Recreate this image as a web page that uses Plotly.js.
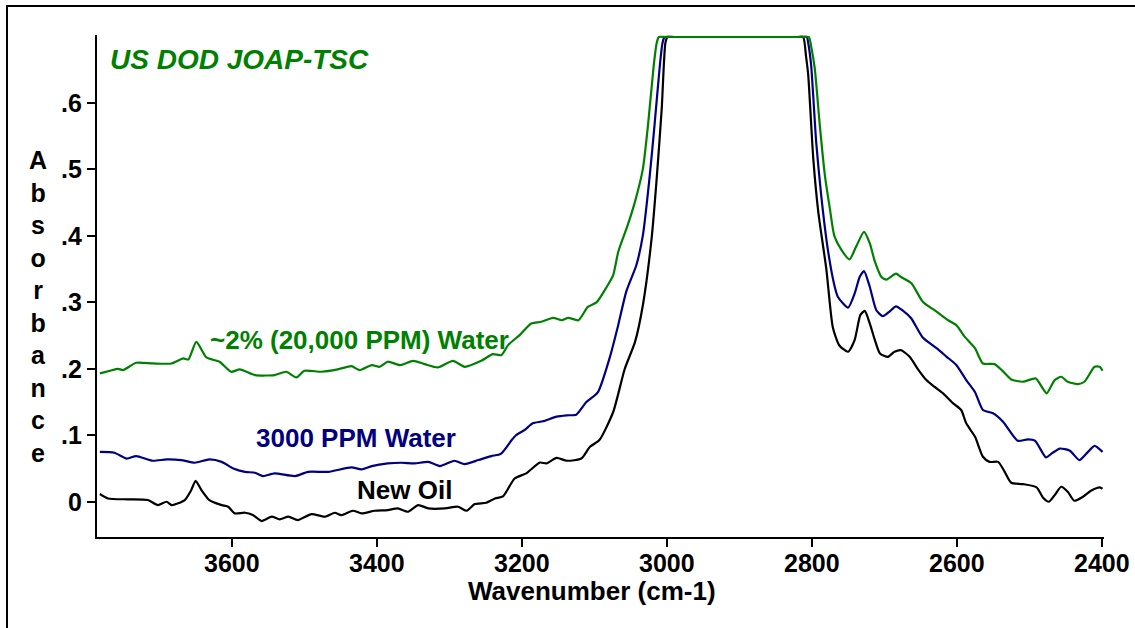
<!DOCTYPE html>
<html>
<head>
<meta charset="utf-8">
<script src="https://cdn.plot.ly/plotly-3.0.1.min.js"></script>
<style>
html,body{margin:0;padding:0;background:#fff;overflow:hidden;}
#chart{position:absolute;left:0;top:0;width:1135px;height:628px;}
#frame{position:absolute;left:6px;top:5px;width:1300px;height:800px;border-left:2px solid #000;border-top:2px solid #000;pointer-events:none;}
</style>
</head>
<body>
<div id="chart"></div>
<div id="frame"></div>
<script>
// ---- data ----
const oilWn = [3782,3771,3743,3716,3702,3690,3683,3665,3656,3650,3642,3631,3614,3605,3596,3582,3571,3559,3545,3534,3522,3509,3490,3472,3458,3449,3433,3421,3403,3385,3371,3357,3343,3329,3306,3288,3276,3265,3249,3237,3226,3210,3194,3175,3166,3152,3138,3118,3106,3093,3074,3058,3044,3033,3021,3014,3007,3002,2999,2990,2900,2820,2812,2808,2805,2798,2791,2780,2771,2762,2750,2741,2733,2727,2720,2713,2706,2695,2686,2677,2665,2654,2642,2631,2619,2605,2594,2587,2575,2564,2555,2543,2534,2525,2509,2490,2481,2473,2465,2456,2447,2438,2426,2415,2403,2399];
const oilAbs = [0.0116,0.005,0.0036,0.0026,-0.005,0.0,-0.005,0.0026,0.0176,0.0316,0.0176,0.0026,-0.005,-0.0075,-0.0175,-0.0165,-0.02,-0.029,-0.0225,-0.0265,-0.0225,-0.0275,-0.0185,-0.0225,-0.0165,-0.02,-0.0135,-0.0175,-0.0135,-0.0125,-0.01,-0.015,-0.005,-0.01,-0.01,-0.0075,-0.0135,-0.0035,-0.0015,0.005,0.008,0.035,0.0427,0.059,0.0577,0.066,0.0617,0.065,0.0827,0.0928,0.135,0.2,0.24,0.296,0.396,0.486,0.592,0.690,0.699,0.699,0.699,0.699,0.699,0.67,0.642,0.516,0.435,0.35,0.262,0.235,0.2256,0.243,0.281,0.287,0.268,0.243,0.223,0.218,0.2256,0.228,0.218,0.2,0.183,0.173,0.163,0.148,0.138,0.118,0.098,0.0677,0.06,0.06,0.045,0.0286,0.0266,0.0217,0.006,0.0,0.01,0.0226,0.015,0.0015,0.0075,0.0165,0.0217,0.0196];

const ppm3000Wn = [3782,3762,3745,3732,3709,3690,3670,3651,3631,3614,3598,3582,3568,3557,3541,3513,3495,3467,3435,3421,3407,3385,3366,3348,3329,3313,3293,3279,3260,3242,3229,3214,3208,3196,3185,3171,3152,3138,3125,3111,3095,3079,3067,3056,3042,3033,3024,3017,3010,3006,3003,2994,2900,2815,2807,2805,2801,2794,2787,2778,2769,2764,2750,2741,2734,2728,2720,2711,2702,2693,2684,2674,2663,2647,2628,2614,2601,2587,2575,2564,2550,2536,2516,2502,2492,2477,2469,2458,2444,2431,2421,2410,2399];
const ppm3000Abs = [0.075,0.0737,0.065,0.0687,0.0617,0.0637,0.0627,0.0587,0.0637,0.06,0.05,0.045,0.0436,0.0386,0.0427,0.0386,0.045,0.045,0.0517,0.0487,0.0537,0.0577,0.0587,0.0577,0.06,0.0537,0.0617,0.0567,0.0627,0.0687,0.072,0.0928,0.1,0.108,0.118,0.121,0.128,0.130,0.131,0.150,0.165,0.216,0.266,0.316,0.356,0.401,0.486,0.566,0.652,0.690,0.699,0.699,0.699,0.699,0.699,0.69,0.657,0.541,0.46,0.38,0.326,0.308,0.292,0.313,0.338,0.347,0.323,0.288,0.279,0.286,0.294,0.287,0.276,0.247,0.231,0.218,0.206,0.183,0.165,0.138,0.133,0.12,0.0917,0.0938,0.0917,0.0667,0.0728,0.08,0.0767,0.0627,0.0728,0.0842,0.075];

const pct2Wn = [3782,3768,3757,3750,3732,3709,3683,3667,3660,3649,3635,3617,3601,3589,3568,3541,3525,3511,3500,3476,3454,3435,3424,3407,3396,3385,3368,3350,3334,3316,3295,3279,3256,3240,3228,3219,3203,3187,3173,3157,3145,3136,3122,3109,3097,3083,3074,3067,3054,3044,3033,3026,3018,3014,3011,3002,2900,2812,2804,2801,2796,2789,2782,2775,2769,2759,2748,2739,2728,2720,2713,2704,2697,2684,2677,2663,2647,2628,2612,2601,2589,2575,2564,2548,2538,2525,2509,2491,2483,2476,2465,2456,2447,2433,2424,2410,2403,2399];
const pct2Abs = [0.193,0.197,0.2,0.198,0.209,0.208,0.208,0.2156,0.214,0.2406,0.217,0.2106,0.1955,0.199,0.1905,0.1905,0.1955,0.187,0.197,0.1955,0.199,0.204,0.198,0.2056,0.203,0.2106,0.2056,0.212,0.207,0.202,0.212,0.203,0.212,0.222,0.2206,0.2356,0.2507,0.268,0.2707,0.2767,0.273,0.2767,0.273,0.293,0.2998,0.323,0.341,0.376,0.416,0.451,0.501,0.566,0.657,0.690,0.699,0.699,0.699,0.699,0.699,0.685,0.652,0.566,0.491,0.44,0.40,0.3785,0.3645,0.3835,0.406,0.3885,0.361,0.338,0.334,0.343,0.338,0.329,0.301,0.286,0.273,0.266,0.248,0.231,0.208,0.207,0.198,0.184,0.1805,0.1855,0.173,0.163,0.183,0.188,0.1805,0.177,0.1805,0.203,0.203,0.197];

const xTickVals = [3600,3400,3200,3000,2800,2600,2400];
const xTickText = ['3600','3400','3200','3000','2800','2600','2400'];
const yTickVals = [0,0.1,0.2,0.3,0.4,0.5,0.6];
const yTickText = ['0','.1','.2','.3','.4','.5','.6'];

const seriesNames = ['New Oil','3000 PPM Water','~2% (20,000 PPM) Water'];
const xTitleText = 'Wavenumber (cm-1)';
const yTitleText = 'Absorbance';
const chartLabel = 'US DOD JOAP-TSC';

// ---- styling ----
const FONT = '"Liberation Sans", Arial, sans-serif';
const GREEN = '#008000';
const NAVY = '#000080';
const BLACK = '#000000';

const mk = (x, y, color, name) => ({
  type: 'scatter', mode: 'lines', x: x, y: y, name: name,
  line: {color: color, width: 2.2, shape: 'spline', smoothing: 0.6},
  hoverinfo: 'skip'
});

const traces = [
  mk(oilWn, oilAbs, BLACK, seriesNames[0]),
  mk(ppm3000Wn, ppm3000Abs, NAVY, seriesNames[1]),
  mk(pct2Wn, pct2Abs, GREEN, seriesNames[2])
];

const bold = (size, color) => ({family: FONT, size: size, color: color || BLACK, weight: 'bold'});

// paper coordinate helpers (plot area: x 97..1104, y 35..537)
const px = v => (v - 97) / 1007;
const py = v => (537 - v) / 502;

const layout = {
  width: 1135, height: 628,
  margin: {l: 97, r: 31, t: 35, b: 91, pad: 0},
  paper_bgcolor: '#ffffff', plot_bgcolor: '#ffffff',
  showlegend: false,
  xaxis: {
    range: [3786, 2397], autorange: false,
    tickvals: xTickVals, ticktext: xTickText,
    ticks: 'outside', ticklen: 8, tickwidth: 2, tickcolor: BLACK,
    ticklabelstandoff: -5,
    showline: true, linecolor: BLACK, linewidth: 2.2, mirror: false,
    showgrid: false, zeroline: false,
    tickfont: bold(25)
  },
  yaxis: {
    range: [-0.053, 0.702], autorange: false,
    tickvals: yTickVals, ticktext: yTickText,
    ticks: 'outside', ticklen: 8, tickwidth: 2, tickcolor: BLACK,
    showline: true, linecolor: BLACK, linewidth: 2.2, mirror: false,
    showgrid: false, zeroline: false,
    tickfont: bold(25)
  },
  annotations: [
    {xref: 'paper', yref: 'paper', x: px(592), y: py(591),
     xanchor: 'center', yanchor: 'middle', showarrow: false,
     text: xTitleText, font: bold(26)},
    {xref: 'paper', yref: 'paper', x: px(38), y: py(306),
     xanchor: 'center', yanchor: 'middle', showarrow: false, align: 'center',
     text: yTitleText.split('').join('<br>'), font: bold(25)},
    {xref: 'paper', yref: 'paper', x: px(108), y: py(60),
     xanchor: 'left', yanchor: 'middle', showarrow: false,
     text: '<i>' + chartLabel + '</i>', font: bold(28, GREEN)},
    {xref: 'paper', yref: 'paper', x: px(359), y: py(340),
     xanchor: 'center', yanchor: 'middle', showarrow: false,
     text: seriesNames[2], font: bold(26, GREEN)},
    {xref: 'paper', yref: 'paper', x: px(355.5), y: py(438.3),
     xanchor: 'center', yanchor: 'middle', showarrow: false,
     text: seriesNames[1], font: bold(26, NAVY)},
    {xref: 'paper', yref: 'paper', x: px(404.7), y: py(490),
     xanchor: 'center', yanchor: 'middle', showarrow: false,
     text: seriesNames[0], font: bold(26, BLACK)}
  ]
};

Plotly.newPlot('chart', traces, layout, {staticPlot: true, displayModeBar: false});
</script>
</body>
</html>
